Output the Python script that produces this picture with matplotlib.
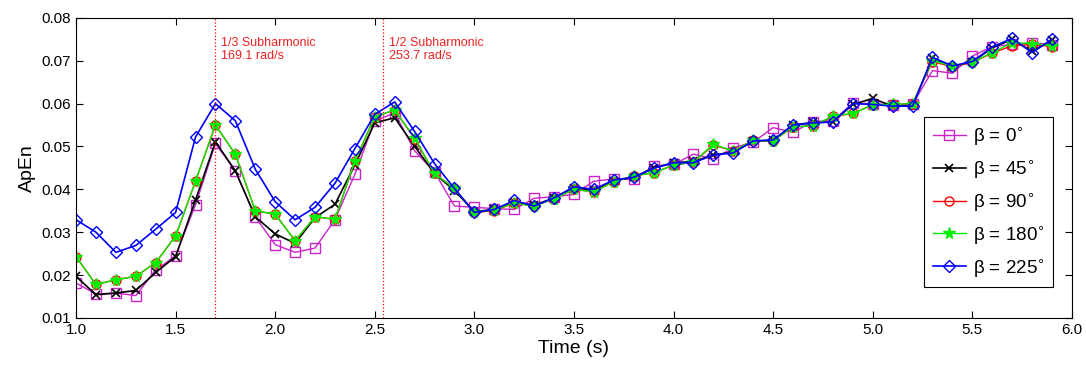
import numpy as np
import matplotlib
matplotlib.use("Agg")
import matplotlib.pyplot as plt

plt.rcParams['font.family'] = ['Liberation Sans', 'DejaVu Sans']

# 时间轴 (s)
time = np.round(np.arange(1.0, 5.95, 0.1), 1)

apen_b0 = [0.0181, 0.0156, 0.0158, 0.0152, 0.0212, 0.0245, 0.0364, 0.0507, 0.0443, 0.0336,
           0.0271, 0.0253, 0.0263, 0.0329, 0.0435, 0.0560, 0.0578, 0.0490, 0.0440, 0.0361,
           0.0358, 0.0355, 0.0353, 0.0379, 0.0383, 0.0388, 0.0419, 0.0424, 0.0423, 0.0454,
           0.0458, 0.0482, 0.0471, 0.0497, 0.0510, 0.0544, 0.0533, 0.0558, 0.0560, 0.0601,
           0.0600, 0.0597, 0.0598, 0.0677, 0.0671, 0.0711, 0.0733, 0.0738, 0.0742, 0.0737]
apen_b45 = [0.0197, 0.0154, 0.0158, 0.0164, 0.0206, 0.0243, 0.0375, 0.0511, 0.0443, 0.0336,
            0.0296, 0.0274, 0.0334, 0.0365, 0.0457, 0.0555, 0.0567, 0.0500, 0.0437, 0.0397,
            0.0348, 0.0353, 0.0370, 0.0363, 0.0380, 0.0403, 0.0398, 0.0420, 0.0428, 0.0450,
            0.0462, 0.0465, 0.0480, 0.0487, 0.0512, 0.0515, 0.0550, 0.0556, 0.0557, 0.0598,
            0.0612, 0.0594, 0.0596, 0.0706, 0.0686, 0.0697, 0.0730, 0.0750, 0.0722, 0.0748]
apen_b90 = [0.0243, 0.0178, 0.0189, 0.0197, 0.0229, 0.0291, 0.0419, 0.0550, 0.0482, 0.0350,
            0.0342, 0.0280, 0.0336, 0.0330, 0.0466, 0.0569, 0.0585, 0.0518, 0.0437, 0.0402,
            0.0346, 0.0350, 0.0368, 0.0361, 0.0378, 0.0400, 0.0394, 0.0418, 0.0431, 0.0439,
            0.0456, 0.0464, 0.0503, 0.0490, 0.0514, 0.0513, 0.0546, 0.0548, 0.0570, 0.0577,
            0.0597, 0.0598, 0.0600, 0.0698, 0.0686, 0.0696, 0.0718, 0.0735, 0.0738, 0.0733]
apen_b180 = [0.0243, 0.0178, 0.0189, 0.0197, 0.0229, 0.0291, 0.0419, 0.0550, 0.0482, 0.0350,
             0.0342, 0.0280, 0.0336, 0.0330, 0.0466, 0.0569, 0.0585, 0.0520, 0.0437, 0.0402,
             0.0346, 0.0352, 0.0368, 0.0361, 0.0378, 0.0400, 0.0394, 0.0418, 0.0431, 0.0439,
             0.0456, 0.0464, 0.0505, 0.0490, 0.0514, 0.0513, 0.0546, 0.0548, 0.0571, 0.0577,
             0.0597, 0.0598, 0.0600, 0.0700, 0.0688, 0.0697, 0.0719, 0.0742, 0.0740, 0.0735]
apen_b225 = [0.0329, 0.0300, 0.0253, 0.0269, 0.0307, 0.0346, 0.0522, 0.0600, 0.0560, 0.0447,
             0.0371, 0.0329, 0.0358, 0.0414, 0.0495, 0.0575, 0.0604, 0.0535, 0.0460, 0.0402,
             0.0346, 0.0353, 0.0374, 0.0361, 0.0380, 0.0406, 0.0400, 0.0422, 0.0428, 0.0449,
             0.0462, 0.0462, 0.0480, 0.0485, 0.0513, 0.0515, 0.0550, 0.0555, 0.0557, 0.0600,
             0.0598, 0.0594, 0.0594, 0.0708, 0.0688, 0.0698, 0.0732, 0.0752, 0.0719, 0.0750]

labels = ['0', '45', '90', '180', '225']

fig = plt.figure(figsize=(10.86, 3.65), dpi=100)
ax = fig.add_axes([0.070, 0.129, 0.917, 0.822])

ax.plot(time, apen_b0, color='#cc22cc', marker='s', mfc='none', ms=6.5, lw=1, mew=1)
ax.plot(time, apen_b45, color='black', marker='x', ms=5.5, lw=1.2, mew=1.2)
ax.plot(time, apen_b90, color='red', marker='o', mfc='none', ms=6.5, lw=1, mew=1)
ax.plot(time, apen_b180, color='#00ee00', marker='*', ms=8.5, lw=1, mew=1)
ax.plot(time, apen_b225, color='blue', marker='D', mfc='none', ms=6, lw=1.2, mew=1)

# 次谐波标记
ax.axvline(1.7, color='red', ls=':', lw=0.9)
ax.axvline(2.543, color='red', ls=':', lw=0.9)
ax.text(1.73, 0.0756, '1/3 Subharmonic\n169.1 rad/s', color='#ee2222', fontsize=9,
        va='top', ha='left', linespacing=1.1)
ax.text(2.57, 0.0756, '1/2 Subharmonic\n253.7 rad/s', color='#ee2222', fontsize=9,
        va='top', ha='left', linespacing=1.1)

ax.set_xlim(1.0, 6.0)
ax.set_ylim(0.01, 0.08)
ax.set_xticks(np.arange(1.0, 6.01, 0.5))
ax.set_xticklabels([f'{v:.1f}' for v in np.arange(1.0, 6.01, 0.5)])
ax.set_yticks(np.arange(0.01, 0.0801, 0.01))
ax.set_yticklabels([f'{v:.2f}' for v in np.arange(0.01, 0.0801, 0.01)])
ax.tick_params(direction='in', top=True, right=True, labelsize=11, length=5)
ax.set_xlabel('Time (s)', fontsize=14, labelpad=2)
ax.set_ylabel('ApEn', fontsize=14, labelpad=4)

leg = ax.legend(['β = %s$^{\\circ}$' % b for b in labels],
                loc='upper left', bbox_to_anchor=(0.852, 0.67), fontsize=13.5,
                fancybox=False, edgecolor='black', framealpha=1,
                handlelength=1.75, labelspacing=0.58, borderpad=0.45, handletextpad=0.4,
                borderaxespad=0)
leg.get_frame().set_linewidth(0.8)

fig.savefig('out.png', dpi=100)
